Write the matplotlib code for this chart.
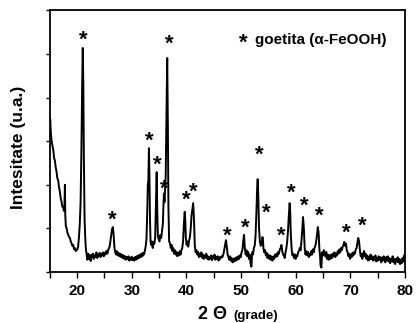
import numpy as np
import matplotlib
matplotlib.use("Agg")
import matplotlib.pyplot as plt

plt.rcParams["font.family"] = ["Liberation Sans", "DejaVu Sans"]
plt.rcParams["font.weight"] = "bold"

# XRD pattern (2 theta in degrees, intensity in a.u.)
two_theta = [
    15.00, 15.10, 15.20, 15.35, 15.50, 15.65, 15.80, 15.95, 16.10, 16.25,
    16.40, 16.55, 16.70, 16.85, 17.00, 17.15, 17.30, 17.45, 17.60, 17.70,
    17.78, 17.85, 17.95, 18.10, 18.25, 18.40, 18.55, 18.70, 18.85, 19.00,
    19.15, 19.30, 19.45, 19.60, 19.75, 19.90, 20.05, 20.20, 20.35, 20.50,
    20.65, 20.80, 20.95, 21.05, 21.15, 21.25, 21.38, 21.50, 21.60, 21.75,
    21.90, 22.05, 22.20, 22.35, 22.50, 22.65, 22.80, 22.95, 23.10, 23.25,
    23.40, 23.55, 23.70, 23.85, 24.00, 24.15, 24.30, 24.45, 24.60, 24.75,
    24.90, 25.05, 25.20, 25.35, 25.55, 25.75, 25.95, 26.10, 26.25, 26.40,
    26.55, 26.70, 26.85, 27.00, 27.15, 27.30, 27.45, 27.60, 27.75, 27.90,
    28.05, 28.20, 28.35, 28.50, 28.65, 28.80, 28.95, 29.10, 29.25, 29.40,
    29.55, 29.70, 29.85, 30.00, 30.15, 30.30, 30.45, 30.60, 30.75, 30.90,
    31.05, 31.20, 31.35, 31.50, 31.65, 31.80, 31.95, 32.10, 32.25, 32.40,
    32.55, 32.70, 32.85, 32.95, 33.05, 33.15, 33.25, 33.35, 33.45, 33.55,
    33.70, 33.85, 34.00, 34.15, 34.30, 34.45, 34.57, 34.68, 34.80, 34.95,
    35.10, 35.25, 35.40, 35.55, 35.70, 35.80, 35.90, 36.00, 36.10, 36.22,
    36.35, 36.50, 36.62, 36.72, 36.85, 37.00, 37.15, 37.30, 37.45, 37.60,
    37.75, 37.90, 38.05, 38.20, 38.35, 38.50, 38.65, 38.80, 38.95, 39.10,
    39.25, 39.40, 39.55, 39.70, 39.80, 39.90, 40.05, 40.20, 40.35, 40.50,
    40.65, 40.80, 40.95, 41.10, 41.25, 41.40, 41.55, 41.70, 41.85, 42.00,
    42.15, 42.30, 42.45, 42.60, 42.75, 42.90, 43.05, 43.20, 43.35, 43.50,
    43.65, 43.80, 43.95, 44.10, 44.25, 44.40, 44.55, 44.70, 44.85, 45.00,
    45.15, 45.30, 45.45, 45.60, 45.75, 45.90, 46.05, 46.20, 46.40, 46.60,
    46.80, 46.95, 47.10, 47.25, 47.40, 47.55, 47.70, 47.85, 48.00, 48.15,
    48.30, 48.45, 48.60, 48.75, 48.90, 49.05, 49.20, 49.35, 49.50, 49.65,
    49.80, 49.95, 50.10, 50.25, 50.40, 50.55, 50.70, 50.85, 51.00, 51.15,
    51.30, 51.45, 51.60, 51.75, 51.90, 52.05, 52.20, 52.35, 52.50, 52.65,
    52.80, 52.95, 53.05, 53.15, 53.30, 53.45, 53.60, 53.75, 53.90, 54.00,
    54.10, 54.25, 54.40, 54.55, 54.70, 54.85, 55.00, 55.15, 55.30, 55.45,
    55.60, 55.75, 55.90, 56.05, 56.20, 56.35, 56.50, 56.65, 56.80, 56.95,
    57.10, 57.25, 57.40, 57.55, 57.70, 57.85, 58.00, 58.15, 58.30, 58.45,
    58.60, 58.75, 58.90, 59.00, 59.10, 59.25, 59.40, 59.55, 59.70, 59.85,
    60.00, 60.15, 60.30, 60.45, 60.60, 60.75, 60.90, 61.05, 61.20, 61.35,
    61.50, 61.65, 61.80, 61.95, 62.10, 62.25, 62.40, 62.55, 62.70, 62.85,
    63.00, 63.15, 63.30, 63.45, 63.60, 63.75, 63.90, 64.05, 64.20, 64.35,
    64.45, 64.55, 64.70, 64.85, 65.00, 65.15, 65.30, 65.45, 65.60, 65.75,
    65.90, 66.05, 66.20, 66.35, 66.50, 66.65, 66.80, 66.95, 67.10, 67.25,
    67.40, 67.55, 67.70, 67.85, 68.00, 68.15, 68.30, 68.45, 68.60, 68.75,
    68.90, 69.05, 69.20, 69.35, 69.50, 69.65, 69.80, 69.95, 70.10, 70.25,
    70.40, 70.55, 70.70, 70.85, 71.00, 71.15, 71.30, 71.45, 71.60, 71.75,
    71.90, 72.05, 72.20, 72.35, 72.50, 72.65, 72.80, 72.95, 73.10, 73.25,
    73.40, 73.55, 73.70, 73.85, 74.00, 74.15, 74.30, 74.45, 74.60, 74.75,
    74.90, 75.05, 75.20, 75.35, 75.50, 75.65, 75.80, 75.95, 76.10, 76.25,
    76.40, 76.55, 76.70, 76.85, 77.00, 77.15, 77.30, 77.45, 77.60, 77.75,
    77.90, 78.05, 78.20, 78.35, 78.50, 78.65, 78.80, 78.95, 79.10, 79.25,
    79.40, 79.55, 79.70, 79.85, 80.00,
]
intensity = [
    3.40, 3.50, 3.20, 3.00, 2.90, 2.80, 2.62, 2.55, 2.40, 2.30,
    2.15, 2.10, 1.95, 1.85, 1.70, 1.62, 1.50, 1.48, 1.40, 1.55,
    2.00, 1.30, 1.05, 1.00, 0.90, 0.85, 0.80, 0.78, 0.70, 0.66,
    0.60, 0.62, 0.52, 0.55, 0.48, 0.50, 0.52, 0.58, 0.80, 1.10,
    1.60, 2.80, 4.40, 5.14, 4.30, 2.60, 1.20, 0.80, 0.55, 0.40,
    0.28, 0.42, 0.30, 0.38, 0.25, 0.40, 0.33, 0.42, 0.30, 0.38,
    0.35, 0.45, 0.32, 0.40, 0.36, 0.44, 0.34, 0.42, 0.38, 0.45,
    0.36, 0.44, 0.40, 0.48, 0.42, 0.52, 0.58, 0.70, 0.85, 0.98,
    1.03, 0.85, 0.55, 0.45, 0.40, 0.48, 0.38, 0.44, 0.36, 0.42,
    0.34, 0.40, 0.32, 0.38, 0.30, 0.36, 0.28, 0.34, 0.30, 0.36,
    0.26, 0.33, 0.28, 0.35, 0.27, 0.32, 0.26, 0.34, 0.28, 0.36,
    0.30, 0.38, 0.32, 0.40, 0.34, 0.42, 0.36, 0.44, 0.40, 0.48,
    0.58, 0.75, 1.40, 2.00, 2.10, 2.84, 2.20, 1.20, 0.70, 0.62,
    0.70, 0.55, 0.68, 0.65, 0.80, 1.60, 2.29, 1.40, 0.80, 0.75,
    0.70, 0.85, 0.78, 0.95, 1.10, 1.50, 1.80, 1.60, 1.90, 2.20,
    3.50, 4.91, 3.30, 1.50, 0.70, 0.66, 0.55, 0.62, 0.48, 0.55,
    0.42, 0.50, 0.40, 0.46, 0.36, 0.44, 0.38, 0.48, 0.40, 0.50,
    0.55, 0.70, 1.10, 1.38, 1.20, 0.80, 0.62, 0.70, 0.58, 0.72,
    0.80, 1.00, 1.30, 1.45, 1.58, 1.20, 0.60, 0.45, 0.50, 0.40,
    0.46, 0.34, 0.42, 0.36, 0.45, 0.32, 0.40, 0.30, 0.38, 0.33,
    0.42, 0.30, 0.36, 0.28, 0.34, 0.30, 0.38, 0.27, 0.36, 0.32,
    0.40, 0.28, 0.35, 0.30, 0.36, 0.26, 0.34, 0.30, 0.36, 0.34,
    0.42, 0.52, 0.62, 0.73, 0.58, 0.40, 0.34, 0.28, 0.36, 0.26,
    0.32, 0.22, 0.30, 0.24, 0.32, 0.26, 0.34, 0.28, 0.36, 0.30,
    0.38, 0.34, 0.45, 0.50, 0.70, 0.85, 0.55, 0.40, 0.50, 0.36,
    0.46, 0.30, 0.40, 0.20, 0.12, 0.45, 0.40, 0.55, 0.60, 0.80,
    1.30, 1.90, 2.13, 1.80, 1.00, 0.70, 0.60, 0.62, 0.80, 0.78,
    0.55, 0.45, 0.50, 0.38, 0.44, 0.32, 0.40, 0.30, 0.38, 0.28,
    0.36, 0.26, 0.35, 0.30, 0.40, 0.34, 0.42, 0.36, 0.46, 0.42,
    0.52, 0.55, 0.62, 0.48, 0.40, 0.38, 0.32, 0.45, 0.55, 0.70,
    0.95, 1.30, 1.58, 1.40, 0.90, 0.55, 0.38, 0.42, 0.32, 0.40,
    0.30, 0.38, 0.36, 0.45, 0.48, 0.55, 0.50, 0.70, 0.95, 1.26,
    1.00, 0.55, 0.40, 0.48, 0.38, 0.46, 0.34, 0.42, 0.38, 0.48,
    0.40, 0.52, 0.45, 0.55, 0.60, 0.70, 0.85, 1.03, 0.90, 0.50,
    0.40, 0.15, 0.10, 0.45, 0.38, 0.50, 0.42, 0.35, 0.46, 0.30,
    0.40, 0.28, 0.38, 0.30, 0.40, 0.32, 0.42, 0.36, 0.45, 0.34,
    0.42, 0.38, 0.48, 0.42, 0.52, 0.45, 0.55, 0.50, 0.58, 0.62,
    0.69, 0.60, 0.65, 0.50, 0.45, 0.36, 0.42, 0.30, 0.40, 0.34,
    0.44, 0.38, 0.46, 0.42, 0.52, 0.55, 0.68, 0.78, 0.70, 0.50,
    0.36, 0.42, 0.30, 0.40, 0.48, 0.36, 0.42, 0.30, 0.38, 0.26,
    0.35, 0.28, 0.40, 0.30, 0.36, 0.26, 0.34, 0.28, 0.38, 0.24,
    0.32, 0.26, 0.36, 0.28, 0.34, 0.22, 0.33, 0.26, 0.36, 0.30,
    0.22, 0.34, 0.26, 0.36, 0.24, 0.32, 0.20, 0.30, 0.26, 0.36,
    0.22, 0.30, 0.18, 0.30, 0.24, 0.34, 0.22, 0.30, 0.18, 0.28,
    0.20, 0.32, 0.24, 0.38, 0.40,
]

# goethite reflections marked with a star
star_x = [21.09, 26.40, 33.16, 34.62, 35.90, 36.81, 39.93, 41.21, 47.43,
          50.72, 53.28, 54.56, 57.30, 59.13, 61.51, 64.26, 69.19, 72.12]
star_y = [5.37, 1.24, 3.07, 2.50, 1.97, 5.28, 1.70, 1.88, 0.89,
          1.06, 2.73, 1.42, 0.89, 1.86, 1.58, 1.35, 0.96, 1.10]

star_size = 16

fig = plt.figure(figsize=(4.16, 3.23), dpi=100)
ax = fig.add_axes([0.1195, 0.158, 0.854, 0.8095])

ax.plot(two_theta, intensity, color="black", lw=1.4)

# the asterisk glyph sits high in its box, so push it down a bit
for sx, sy in zip(star_x, star_y):
    ax.annotate("*", (sx, sy), xytext=(0, -0.12 * star_size),
                textcoords="offset points", ha="center", va="center",
                fontsize=star_size, fontweight="bold")

# legend entry
ax.annotate("*", (50.40, 5.32), xytext=(0, -0.12 * star_size),
            textcoords="offset points", ha="center", va="center",
            fontsize=star_size, fontweight="bold")
ax.text(52.6, 5.32, "goetita (α-FeOOH)", ha="left", va="center", fontsize=11,
        fontweight="bold")

ax.set_xlim(15, 80)
ax.set_ylim(0, 6)
ax.set_xticks(np.arange(20, 81, 10))
ax.set_xticks(np.arange(15, 81, 5), minor=True)
ax.set_yticks(np.arange(0, 7, 1))
ax.set_yticklabels([])
ax.tick_params(axis="x", which="both", direction="out", length=4, width=1,
               labelsize=11, pad=5)
ax.tick_params(axis="y", direction="out", length=3, width=1)
for lab in ax.get_xticklabels():
    lab.set_fontweight("bold")
for sp in ax.spines.values():
    sp.set_linewidth(1.3)

fig.text(19 / 416, 1 - 147 / 323, "Intesitate (u.a.)", rotation=90,
         ha="center", va="center", fontsize=12.5, fontweight="bold")

fig.text(198 / 416, 1 - 319 / 323, "2 Θ", ha="left", va="baseline",
         fontsize=13, fontweight="bold")
fig.text(233 / 416, 1 - 319 / 323, "(grade)", ha="left", va="baseline",
         fontsize=9.5, fontweight="bold")

fig.savefig("out.png", dpi=100)
